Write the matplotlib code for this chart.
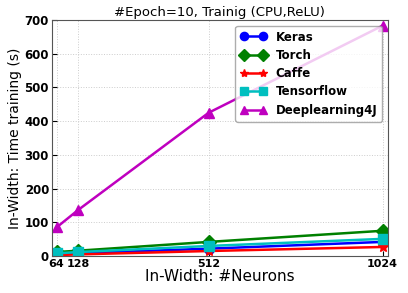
import numpy as np
import matplotlib.pyplot as plt

# Dados (tempo de treino em segundos)
neuronios = [64, 128, 512, 1024]
keras = [5, 8, 22, 42]
torch = [12, 16, 42, 75]
caffe = [3, 5, 15, 27]
tensorflow = [8, 12, 30, 51]
dl4j = [85, 137, 425, 683]

fig = plt.figure(figsize=(4.08, 2.93), dpi=100, facecolor='white')
ax = fig.add_axes([0.127, 0.126, 0.824, 0.806])

ax.plot(neuronios, keras, 'b-o', lw=1.8, ms=7, mec='b', label='Keras')
ax.plot(neuronios, torch, 'g-D', lw=1.8, ms=7, mec='g', label='Torch')
ax.plot(neuronios, caffe, 'r-*', lw=1.8, ms=7, mec='r', label='Caffe')
ax.plot(neuronios, tensorflow, 'c-s', lw=1.8, ms=7, mec='c', label='Tensorflow')
ax.plot(neuronios, dl4j, 'm-^', lw=1.8, ms=7, mec='m', label='Deeplearning4J')

ax.set_xlim([50, 1040])
ax.set_ylim([0, 700])
ax.set_xticks(neuronios)
ax.set_xticklabels(['64', '128', '512', '1024'])
ax.set_yticks(range(0, 701, 100))
ax.tick_params(direction='in', labelsize=8.5, pad=2)
ax.tick_params(axis='x', labelsize=8)
for lab in ax.get_xticklabels() + ax.get_yticklabels():
    lab.set_fontweight('bold')
ax.grid(True, linestyle=':', color='#cccccc', lw=0.7)
for s in ax.spines.values():
    s.set_color('#555555')

ax.set_title('#Epoch=10, Trainig (CPU,ReLU)', fontsize=9.5, pad=3)
ax.set_xlabel('In-Width: #Neurons', fontsize=11, labelpad=0)
ax.set_ylabel('In-Width: Time training (s)', fontsize=10, labelpad=2)

leg = ax.legend(loc='upper right', numpoints=2, markerscale=0.85,
                prop={'weight': 'bold', 'size': 8.5}, handlelength=2.2,
                borderaxespad=0.5, labelspacing=0.45, fancybox=True)
leg.get_frame().set_edgecolor('#999999')

fig.savefig('out.png', dpi=100, facecolor='white')
